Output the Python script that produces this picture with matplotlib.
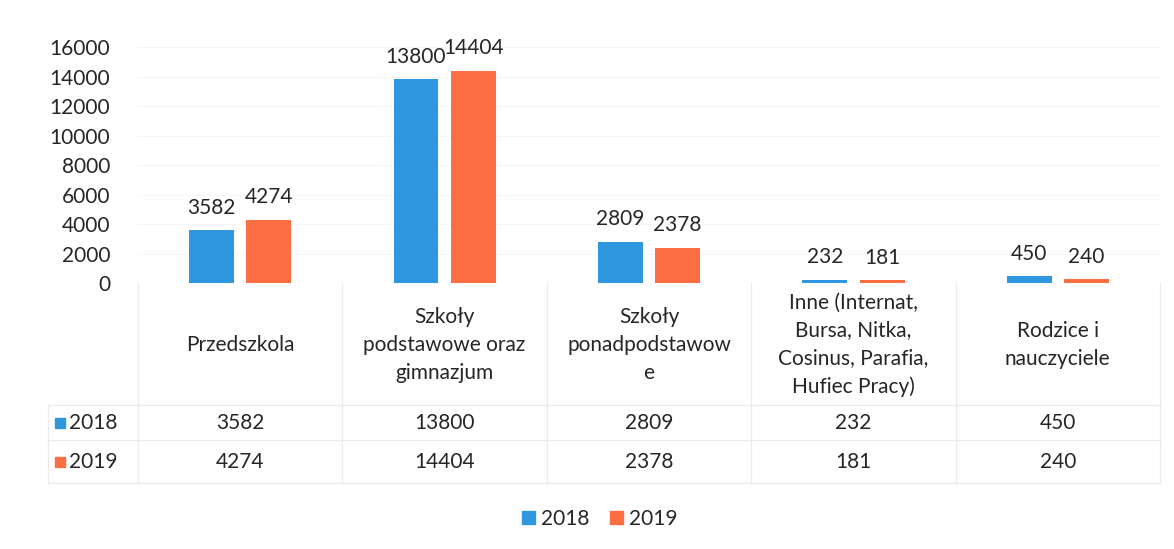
import matplotlib.pyplot as plt
import matplotlib.patches as mpatches
import numpy as np

categories = ['Przedszkola', 'Szkoły\npodstawowe oraz\ngimnazjum', 'Szkoły\nponadpodstawow\ne',
              'Inne (Internat,\nBursa, Nitka,\nCosinus, Parafia,\nHufiec Pracy)', 'Rodzice i\nnauczyciele']
years = ['2018', '2019']
v2018 = [3582, 13800, 2809, 232, 450]
v2019 = [4274, 14404, 2378, 181, 240]
colors = ['#2f96e0', '#fd6f43']

plt.rcParams['font.family'] = ['Lato', 'DejaVu Sans']
fs = 15
W, H = 1174, 549
fig = plt.figure(figsize=(W / 100, H / 100), dpi=100)

def box(x0, y0, x1, y1):
    # pixel box (top-left origin) -> figure fraction rect
    return [x0 / W, 1 - y1 / H, (x1 - x0) / W, (y1 - y0) / H]

n = len(categories)
x = np.arange(n) + 0.5
bw = 0.22

ax = fig.add_axes(box(138, 47, 1160, 283))
for i, (vals, c) in enumerate(zip([v2018, v2019], colors)):
    off = (-0.14, 0.14)[i]
    bars = ax.bar(x + off, vals, width=bw, color=c)
    ax.bar_label(bars, labels=[str(v) for v in vals], padding=9, fontsize=fs, color='#262626')
ax.set_xlim(0, n)
ax.set_ylim(0, 16000)
ax.set_yticks(np.arange(0, 16001, 2000))
ax.set_xticks([])
ax.tick_params(axis='y', length=0, pad=20, labelsize=fs, labelcolor='#262626')
ax.yaxis.grid(True, color='#f6f6f6', lw=0.8)
ax.set_axisbelow(True)
for s in ax.spines.values():
    s.set_visible(False)

# data table below the axis
hdr = 90 / 204.4
tb = fig.add_axes(box(48, 283, 1160, 483))
tb.set_xlim(-hdr, n)
tb.set_ylim(200, 0)
tb.axis('off')
lc = '#ebebeb'
for y in [122, 157, 200]:
    tb.plot([-hdr, n], [y, y], color=lc, lw=0.9, clip_on=False)
for xv in range(n + 1):
    tb.plot([xv, xv], [0, 200], color=lc, lw=0.9, clip_on=False)
tb.plot([-hdr, -hdr], [122, 200], color=lc, lw=0.9, clip_on=False)

for i, cat in enumerate(categories):
    tb.text(x[i], 62, cat, ha='center', va='center', fontsize=fs, color='#262626', linespacing=1.5)
for r, (yr, vals, c) in enumerate(zip(years, [v2018, v2019], colors)):
    yc = (140, 179)[r]
    tb.add_patch(mpatches.Rectangle((-hdr + 7 / 204.4, yc - 5), 10 / 204.4, 10, color=c, clip_on=False))
    tb.text(-hdr + 21 / 204.4, yc, yr, ha='left', va='center', fontsize=fs, color='#262626')
    for i, v in enumerate(vals):
        tb.text(x[i], yc, str(v), ha='center', va='center', fontsize=fs, color='#262626')

handles = [mpatches.Patch(color=c, label=y) for y, c in zip(years, colors)]
fig.legend(handles=handles, loc='center', bbox_to_anchor=(600 / W, 1 - 519 / H), ncol=2, frameon=False,
           fontsize=fs, handlelength=0.6, handleheight=0.6, handletextpad=0.3, columnspacing=1.0,
           labelcolor='#262626')

fig.savefig('out.png', dpi=100)
